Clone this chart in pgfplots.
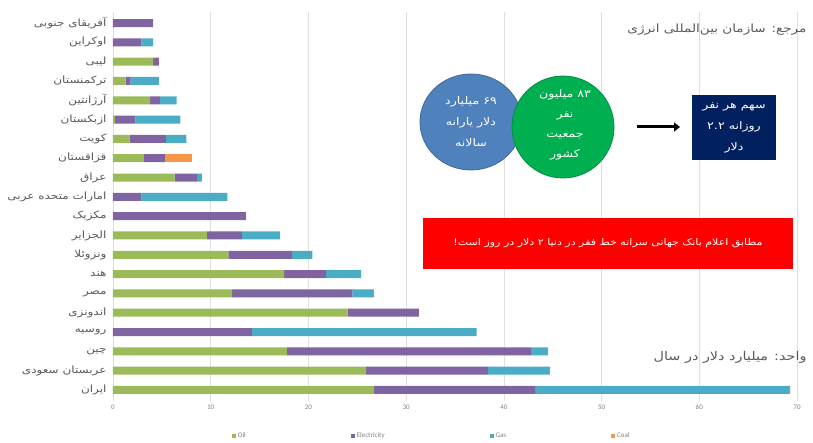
\documentclass[border=0pt]{standalone}
\usepackage{fontspec}
\setmainfont{Carlito}
\newfontfamily\arabicfont[Script=Arabic, FakeStretch=1.2]{DejaVu Sans}
\TeXXeTstate=1
\usepackage{pgfplots}
\usepackage{pgfplotstable}
\pgfplotsset{compat=1.18}
\usetikzlibrary{arrows.meta}
\definecolor{oil}{HTML}{9BBB59}
\definecolor{elec}{HTML}{8064A2}
\definecolor{gas}{HTML}{4BACC6}
\definecolor{coal}{HTML}{F79646}
\definecolor{lbl}{HTML}{595959}
\definecolor{circblue}{HTML}{4F81BD}
\definecolor{circgreen}{HTML}{00B050}
\definecolor{navy}{HTML}{002060}
\pgfplotstableread{
y oil elec gas coal
0 26.7 16.5 26.1 0
1 25.9 12.5 6.3 0
2 17.8 25.0 1.7 0
3 0 14.2 23.0 0
4 24.0 7.3 0 0
5 12.2 12.3 2.2 0
6 17.5 4.3 3.6 0
7 11.8 6.5 2.1 0
8 9.6 3.6 3.9 0
9 0 13.6 0 0
10 0 2.9 8.8 0
11 6.3 2.3 0.5 0
12 3.1 2.2 0 2.8
13 1.7 3.7 2.1 0
14 0.2 2.1 4.6 0
15 3.8 1.0 1.7 0
16 1.3 0.5 2.9 0
17 4.1 0.6 0 0
18 0 2.9 1.2 0
19 0 4.1 0 0
}\datatable
\begin{document}
\begin{tikzpicture}
\useasboundingbox (-113pt,-42pt) rectangle (700pt,401pt);
\begin{axis}[
  scale only axis, width=684pt, height=389pt,
  xbar stacked, bar width=8pt,
  xmin=0, xmax=70, ymin=-0.57, ymax=19.57,
  xtick={0,10,...,70}, ytick={0,...,19},
  yticklabels={
    {\beginR ایران\endR},
    {\beginR عربستان سعودی\endR},
    {\beginR چین\endR},
    {\beginR روسیه\endR},
    {\beginR اندونزی\endR},
    {\beginR مصر\endR},
    {\beginR هند\endR},
    {\beginR ونزوئلا\endR},
    {\beginR الجزایر\endR},
    {\beginR مکزیک\endR},
    {\beginR امارات متحده عربی\endR},
    {\beginR عراق\endR},
    {\beginR قزاقستان\endR},
    {\beginR کویت\endR},
    {\beginR ازبکستان\endR},
    {\beginR آرژانتین\endR},
    {\beginR ترکمنستان\endR},
    {\beginR لیبی\endR},
    {\beginR اوکراین\endR},
    {\beginR آفریقای جنوبی\endR}},
  yticklabel style={font=\arabicfont\fontsize{10}{11}\selectfont, text=lbl, xshift=-3pt},
  xticklabel style={font=\fontsize{7}{8}\selectfont, text=gray},
  /pgf/number format/assume math mode=true,
  xmajorgrids, grid style={gray!25, line width=0.6pt},
  axis line style={draw=none}, tick style={draw=none},
  legend style={at={(0.466,-0.09)}, anchor=center, draw=none, fill=none,
    font=\fontsize{7}{8}\selectfont, text=gray, legend columns=4,
    /tikz/every even column/.append style={column sep=103pt}},
  legend image code/.code={\fill[#1] (0pt,-2pt) rectangle (4pt,2pt);},
]
\addplot[fill=oil, draw=none] table[x=oil, y=y] {\datatable};
\addplot[fill=elec, draw=none] table[x=elec, y=y] {\datatable};
\addplot[fill=gas, draw=none] table[x=gas, y=y] {\datatable};
\addplot[fill=coal, draw=none] table[x=coal, y=y] {\datatable};
\legend{Oil, Electricity, Gas, Coal}
\end{axis}
% source
\node[anchor=east, font=\arabicfont\fontsize{11.3}{13}\selectfont, text=lbl] at (697pt,371pt) {\beginR مرجع: سازمان بین‌المللی انرژی\endR};
% circles
\fill[circblue, draw=circblue!80!black, line width=0.8pt] (358pt,279pt) ellipse [x radius=51pt, y radius=48pt];
\node[font=\arabicfont\fontsize{10.5}{21}\selectfont, text=white, align=center] at (358pt,279pt)
  {{\beginR ۶۹ میلیارد\endR}\\{\beginR دلار یارانه\endR}\\{\beginR سالانه\endR}};
\fill[circgreen, draw=circgreen!80!black, line width=0.8pt] (450pt,274pt) ellipse [x radius=51pt, y radius=51pt];
\node[font=\arabicfont\fontsize{10.5}{20}\selectfont, text=white, align=center] at (452pt,276pt)
  {{\beginR ۸۳ میلیون\endR}\\{\beginR نفر\endR}\\{\beginR جمعیت\endR}\\{\beginR کشور\endR}};
% arrow
\draw[line width=3pt, -{Triangle[length=6pt,width=9pt]}] (524pt,274pt) -- (567pt,274pt);
% navy box
\fill[navy] (579pt,241pt) rectangle (663pt,306pt);
\node[font=\arabicfont\fontsize{10.5}{21}\selectfont, text=white, align=center] at (621pt,273.5pt)
  {{\beginR سهم هر نفر\endR}\\{\beginR روزانه ۲.۲\endR}\\{\beginR دلار\endR}};
% red box
\fill[red] (310pt,132pt) rectangle (680pt,183pt);
\node[font=\arabicfont\fontsize{9.2}{11}\selectfont, text=white] at (495pt,157.5pt)
  {\beginR مطابق اعلام بانک جهانی سرانه خط فقر در دنیا ۲ دلار در روز است!\endR};
% unit
\node[anchor=east, font=\arabicfont\fontsize{12}{14}\selectfont, text=lbl] at (697pt,44pt) {\beginR واحد: میلیارد دلار در سال\endR};
\end{tikzpicture}
\end{document}
